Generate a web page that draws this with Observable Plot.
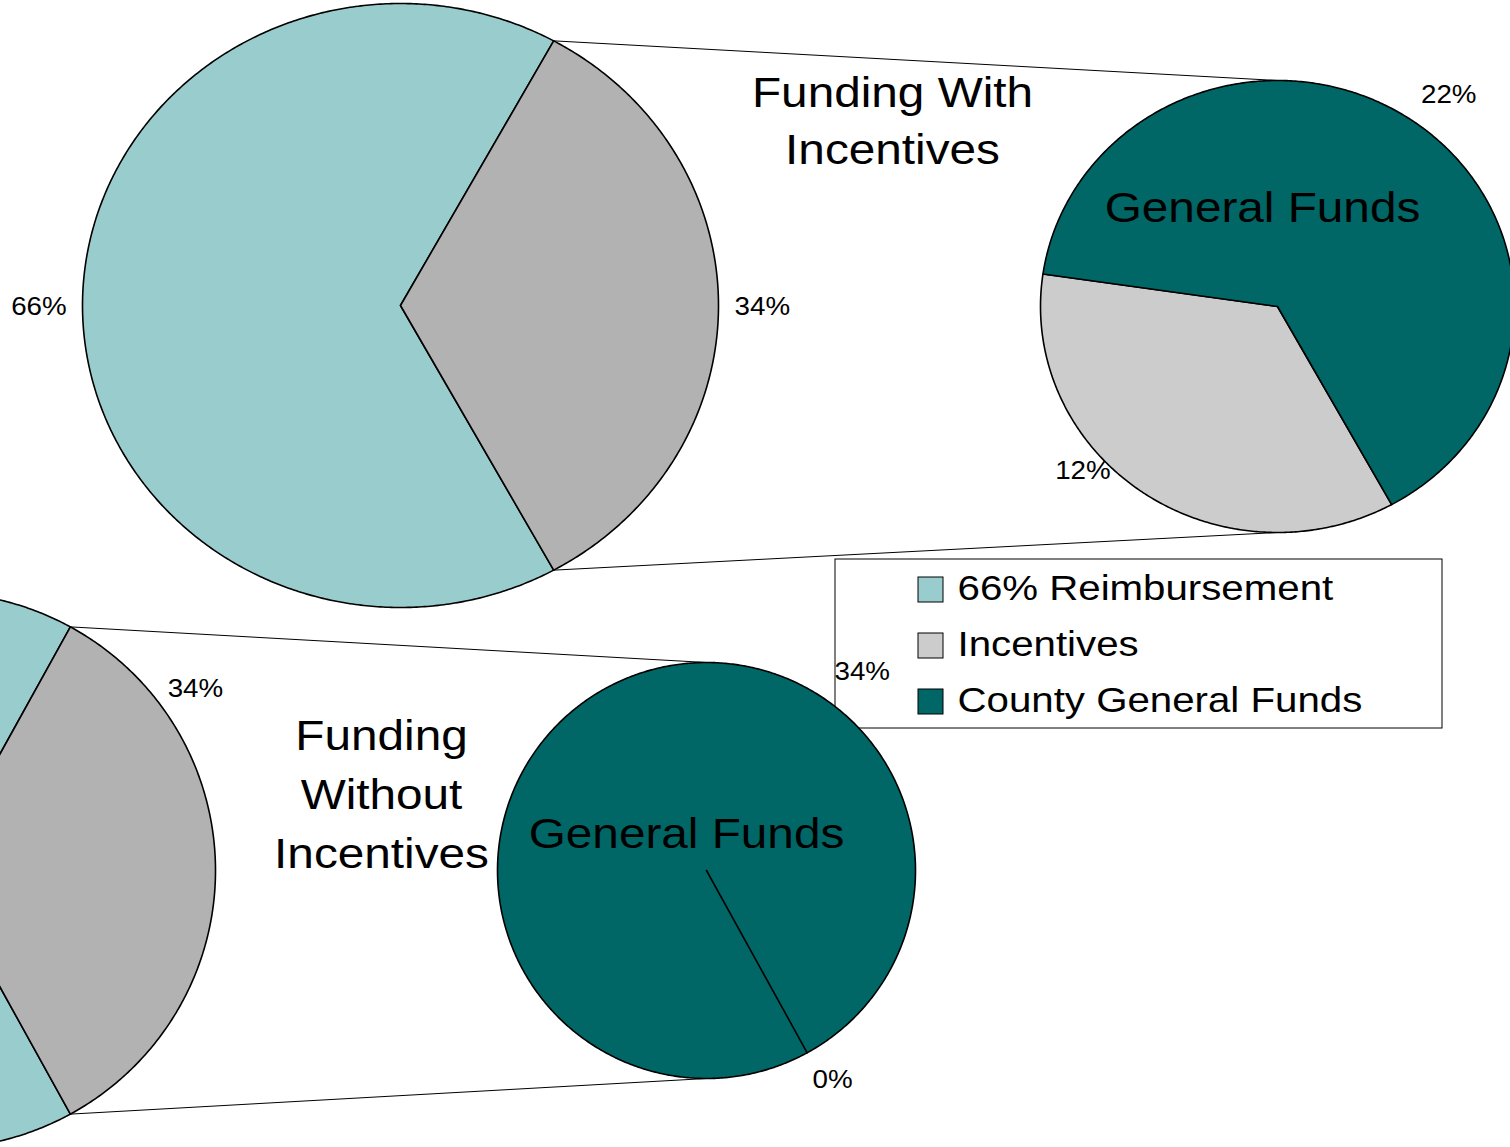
<!DOCTYPE html>
<html><head><meta charset="utf-8">
<script src="https://cdn.jsdelivr.net/npm/d3@7"></script>
<script src="https://cdn.jsdelivr.net/npm/@observablehq/plot@0.6"></script>
<style>html,body{margin:0;padding:0;background:#fff;overflow:hidden}</style>
</head><body><div id="chart"></div>
<script>
// ---------- data ----------
const categories = ["66% Reimbursement", "Incentives", "County General Funds"];
const withPrimary = [66, 34];        // reimbursement, local share (split out)
const withSecondary = [12, 22];      // incentives, county general funds
const withoutPrimary = [66, 34];
const withoutSecondary = [0, 34];
const titles = ["Funding With\nIncentives", "Funding\nWithout\nIncentives"];
const secondaryCaption = "General Funds";

// ---------- style / layout ----------
const W = 1510, H = 1147;
const FONT = "Liberation Sans, Arial, Helvetica, sans-serif";
const STRETCH = 1.11, LEGEND_STRETCH = 1.15;
const catColors = ["#99CCCC", "#CCCCCC", "#006666"];
const primaryColors = ["#99CCCC", "#B2B2B2"];
const secondaryColors = ["#CCCCCC", "#006666"];
const panels = [
  { primary: withPrimary, secondary: withSecondary, title: titles[0],
    big: {cx: 400, cy: 305, rx: 318, ry: 302}, small: {cx: 1277, cy: 306, rx: 237, ry: 226},
    titlePos: {x: 892, y: 67, lh: 1.31}, captionPos: {x: 1262, y: 191},
    primaryLabelPos: [[180, 1.137], [0, 1.138]], secondaryLabelPos: [[138.7, 1.093], [-52.5, 1.187]] },
  { primary: withoutPrimary, secondary: withoutSecondary, title: titles[1],
    big: {cx: -65, cy: 870, rx: 280, ry: 278}, small: {cx: 706, cy: 870, rx: 209, ry: 208},
    titlePos: {x: 381, y: 707, lh: 1.38}, captionPos: {x: 686, y: 817},
    primaryLabelPos: [[180, 1.137], [-35.2, 1.136]], secondaryLabelPos: [[58.9, 1.168], [-52.1, 1.213]] }
];
const legendBox = {x1: 835, x2: 1442, y1: 559, y2: 728, swX: 918, sw: 25, textX: 957, rows: [588, 644, 700]};

const rad = Math.PI / 180;
const pt = (g, a) => ({x: g.cx + g.rx * Math.cos(a), y: g.cy + g.ry * Math.sin(a)});

function slices(values, g, start) {
  const arcs = d3.pie().sort(null).value(d => d)
    .startAngle(start + Math.PI / 2).endAngle(start + Math.PI / 2 + 2 * Math.PI)(values);
  return arcs.map(a => {
    const a0 = a.startAngle - Math.PI / 2, a1 = a.endAngle - Math.PI / 2;
    const pts = [{x: g.cx, y: g.cy}];
    const n = Math.max(1, Math.ceil((a1 - a0) / (0.5 * rad)));
    for (let i = 0; i <= n; i++) pts.push(pt(g, a0 + (a1 - a0) * i / n));
    pts.push({x: g.cx, y: g.cy});
    return pts;
  });
}

const marks = [];
const connectors = [];
const labels = [];
const texts = [];
const pieMarks = [];

for (const p of panels) {
  const sum = d3.sum(p.primary);
  const start = Math.PI - (p.primary[0] / sum) * Math.PI;     // reimbursement centred on the left
  const end = start + (p.primary[0] / sum) * 2 * Math.PI;
  const b1 = pt(p.big, start), s1 = pt(p.small, Math.PI / 2);
  const b2 = pt(p.big, end), s2 = pt(p.small, -Math.PI / 2);
  connectors.push({x1: b1.x, y1: b1.y, x2: s1.x, y2: s1.y}, {x1: b2.x, y1: b2.y, x2: s2.x, y2: s2.y});
  slices(p.primary, p.big, start).forEach((pts, i) =>
    pieMarks.push(Plot.line(pts, {x: "x", y: "y", fill: primaryColors[i], stroke: "#000", strokeWidth: 1.6, strokeLinejoin: "round"})));
  slices(p.secondary, p.small, start).forEach((pts, i) =>
    pieMarks.push(Plot.line(pts, {x: "x", y: "y", fill: secondaryColors[i], stroke: "#000", strokeWidth: 1.6, strokeLinejoin: "round"})));
  p.primary.forEach((v, i) => {
    const [ang, k] = p.primaryLabelPos[i];
    const q = {cx: p.big.cx, cy: p.big.cy, rx: p.big.rx * k, ry: p.big.ry * k};
    labels.push({...pt(q, ang * rad), text: v + "%"});
  });
  p.secondary.forEach((v, i) => {
    const [ang, k] = p.secondaryLabelPos[i];
    const q = {cx: p.small.cx, cy: p.small.cy, rx: p.small.rx * k, ry: p.small.ry * k};
    labels.push({...pt(q, ang * rad), text: v + "%"});
  });
  texts.push({x: p.titlePos.x, y: p.titlePos.y, text: p.title, lh: p.titlePos.lh});
  texts.push({x: p.captionPos.x, y: p.captionPos.y, text: secondaryCaption, caption: true});
}

marks.push(Plot.link(connectors, {x1: "x1", y1: "y1", x2: "x2", y2: "y2", stroke: "#000", strokeWidth: 1}));
marks.push(Plot.rect([legendBox], {x1: "x1", x2: "x2", y1: "y1", y2: "y2", fill: "#fff", stroke: "#000", strokeWidth: 1}));
marks.push(...pieMarks);
texts.filter(t => !t.caption).forEach(t =>
  marks.push(Plot.text([t], {x: "x", y: "y", text: "text", fontSize: 43, lineHeight: t.lh, lineAnchor: "top", textAnchor: "middle", fill: "#000", fontFamily: FONT})));
marks.push(Plot.text(texts.filter(t => t.caption), {x: "x", y: "y", text: "text", fontSize: 43, lineAnchor: "top", textAnchor: "middle", fill: "#000", fontFamily: FONT}));
marks.push(Plot.text(labels, {x: "x", y: d => d.y + 1, text: "text", fontSize: 25, textAnchor: "middle", fill: "#000", fontFamily: FONT}));
categories.forEach((c, i) => {
  const r = legendBox.rows[i];
  marks.push(Plot.rect([{c}], {x1: () => legendBox.swX, x2: () => legendBox.swX + legendBox.sw, y1: () => r - 11, y2: () => r + 14, fill: catColors[i], stroke: "#000", strokeWidth: 1}));
});
marks.push(Plot.text(categories.map((c, i) => ({c, x: legendBox.textX, y: legendBox.rows[i]})), {x: "x", y: "y", text: "c", fontSize: 35, textAnchor: "start", fill: "#000", fontFamily: FONT}));

const svg = Plot.plot({
  width: W, height: H, margin: 0,
  x: {domain: [0, W], range: [0, W], axis: null},
  y: {domain: [0, H], range: [0, H], axis: null},
  style: {background: "#fff", fontFamily: FONT},
  marks
});
// emulate the horizontally stretched lettering of the original
svg.querySelectorAll("text").forEach(t => {
  const s = categories.includes(t.textContent) ? LEGEND_STRETCH : STRETCH;
  const tr = t.getAttribute("transform");
  if (tr) t.setAttribute("transform", tr + ` scale(${s},1)`);
  else {
    const x = +(t.getAttribute("x") || 0);
    t.setAttribute("transform", `translate(${x},0) scale(${s},1) translate(${-x},0)`);
  }
});
document.getElementById("chart").appendChild(svg);
</script>
</body></html>
